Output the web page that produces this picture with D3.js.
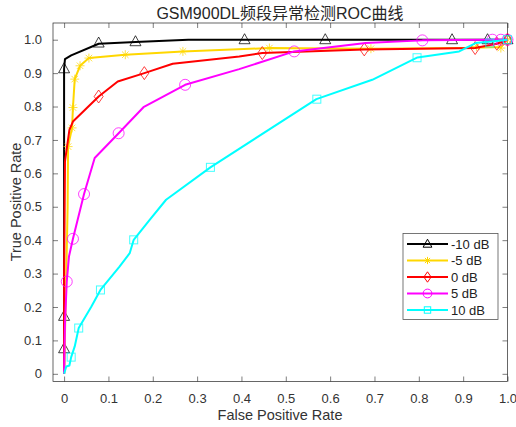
<!DOCTYPE html>
<html><head><meta charset="utf-8">
<script src="https://cdn.jsdelivr.net/npm/d3@7"></script>
<style>body{margin:0;background:#fff}svg{display:block;font-family:"Liberation Sans",Arial,sans-serif}</style>
</head><body><svg id="c" width="516" height="427"></svg>
<script>
const title = "GSM900DL频段异常检测ROC曲线";
const xLabel = "False Positive Rate";
const yLabel = "True Positive Rate";
const ticks = [0,0.1,0.2,0.3,0.4,0.5,0.6,0.7,0.8,0.9,1.0];
const seriesNames = ["-10 dB","-5 dB","0 dB","5 dB","10 dB"];
const seriesColors = ["#000000","#FFD700","#FF0000","#FF00FF","#00FFFF"];
const seriesMarkers = ["triangle","asterisk","diamond","circle","square"];

const lineM10 = [[0,0],[0,0.075],[0,0.17],[0,0.5],[0,0.913],[0.002,0.942],[0.016,0.953],[0.078,0.988],[0.161,0.993],[0.28,1.0],[0.407,1.0],[0.589,1.0],[0.875,1.0],[0.955,1.0],[1,1]];
const markM10 = [[0,0.075],[0,0.172],[0,0.913],[0.078,0.99],[0.161,0.994],[0.407,1],[0.589,1],[0.875,1],[0.955,1],[1,1]];

const lineM5 = [[0,0],[0.005,0.3],[0.008,0.5],[0.009,0.68],[0.018,0.736],[0.02,0.797],[0.024,0.882],[0.036,0.922],[0.056,0.945],[0.138,0.955],[0.268,0.965],[0.463,0.975],[0.692,0.973],[0.9,0.975],[0.985,0.978],[1,1]];
const markM5 = [[0.009,0.68],[0.018,0.736],[0.02,0.797],[0.024,0.882],[0.036,0.922],[0.056,0.945],[0.138,0.955],[0.268,0.965],[0.463,0.975],[0.692,0.973],[0.93,0.98],[0.985,0.975],[1,1]];

const line0 = [[0,0],[0,0.3],[0.002,0.636],[0.012,0.73],[0.02,0.755],[0.078,0.83],[0.121,0.875],[0.181,0.9],[0.245,0.928],[0.395,0.95],[0.447,0.96],[0.677,0.971],[0.927,0.975],[0.976,0.988],[1,1]];
const mark0 = [[0.078,0.83],[0.181,0.9],[0.447,0.96],[0.677,0.971],[0.927,0.975],[0.976,0.988],[1,1]];

const line5 = [[0,0],[0.002,0.15],[0.006,0.276],[0.011,0.351],[0.02,0.404],[0.045,0.538],[0.069,0.646],[0.123,0.72],[0.179,0.798],[0.273,0.865],[0.395,0.912],[0.519,0.965],[0.68,0.99],[0.808,0.998],[0.966,1.0],[1,1]];
const mark5 = [[0.006,0.276],[0.02,0.404],[0.045,0.538],[0.123,0.72],[0.273,0.865],[0.519,0.965],[0.808,0.998],[0.966,1.0],[0.985,1.0],[1,1]];

const line10 = [[0,0],[0.005,0.022],[0.012,0.025],[0.016,0.05],[0.024,0.082],[0.033,0.137],[0.061,0.2],[0.082,0.251],[0.125,0.321],[0.148,0.361],[0.157,0.401],[0.193,0.461],[0.23,0.521],[0.33,0.618],[0.569,0.822],[0.695,0.88],[0.797,0.947],[0.891,0.965],[0.928,0.99],[0.98,0.997],[1,1]];
const mark10 = [[0.016,0.05],[0.033,0.137],[0.082,0.251],[0.157,0.401],[0.33,0.618],[0.57,0.822],[0.796,0.946],[0.96,0.99],[1,1]];

const lines = [lineM10,lineM5,line0,line5,line10];
const marks = [markM10,markM5,mark0,mark5,mark10];

const svg = d3.select("#c");
const L=53,R=507.5,T=23,B=381.5;
const x = d3.scaleLinear().domain([-0.025,1.0]).range([L,R]);
const y = d3.scaleLinear().domain([-0.023,1.05]).range([B,T]);
const axisCol = "#262626";
const fmt = d=> d===0?"0":d.toFixed(1);

svg.append("rect").attr("x",L).attr("y",T).attr("width",R-L).attr("height",B-T).attr("fill","#fff");

const gx = svg.append("g").attr("transform",`translate(0,${B})`).call(d3.axisBottom(x).tickValues(ticks).tickFormat(fmt).tickSizeInner(-5).tickSizeOuter(0).tickPadding(12));
const gxt = svg.append("g").attr("transform",`translate(0,${T})`).call(d3.axisTop(x).tickValues(ticks).tickFormat("").tickSizeInner(-5).tickSizeOuter(0));
const gy = svg.append("g").attr("transform",`translate(${L},0)`).call(d3.axisLeft(y).tickValues(ticks).tickFormat(fmt).tickSizeInner(-5).tickSizeOuter(0).tickPadding(11));
const gyr = svg.append("g").attr("transform",`translate(${R},0)`).call(d3.axisRight(y).tickValues(ticks).tickFormat("").tickSizeInner(-5).tickSizeOuter(0));
[gx,gxt,gy,gyr].forEach(g=>{
  g.select(".domain").remove();
  g.selectAll("line").attr("stroke",axisCol).attr("stroke-width",0.6);
  g.selectAll("text").attr("fill","#333").style("font-size","13px").style("font-family","'Liberation Sans',Arial,sans-serif");
});
svg.append("rect").attr("x",L).attr("y",T).attr("width",R-L).attr("height",B-T).attr("fill","none").attr("stroke",axisCol).attr("stroke-width",0.7);

function drawMarker(g, type, cx, cy, col, s, op){
  s = s||1; op = op==null?0.75:op;
  let el;
  if(type==="triangle"){
    el = g.append("path").attr("d",`M${cx},${cy-6*s}L${cx+5.5*s},${cy+4*s}L${cx-5.5*s},${cy+4*s}Z`).attr("fill","none");
  } else if(type==="asterisk"){
    const r=4.5*s, d=r*0.72;
    el = g.append("path").attr("d",`M${cx-r},${cy}L${cx+r},${cy}M${cx},${cy-r}L${cx},${cy+r}M${cx-d},${cy-d}L${cx+d},${cy+d}M${cx-d},${cy+d}L${cx+d},${cy-d}`);
  } else if(type==="diamond"){
    el = g.append("path").attr("d",`M${cx},${cy-6.5*s}L${cx+4.5*s},${cy}L${cx},${cy+6.5*s}L${cx-4.5*s},${cy}Z`).attr("fill","none");
  } else if(type==="circle"){
    el = g.append("circle").attr("cx",cx).attr("cy",cy).attr("r",5.5*s).attr("fill","none");
  } else if(type==="square"){
    el = g.append("rect").attr("x",cx-4*s).attr("y",cy-4*s).attr("width",8*s).attr("height",8*s).attr("fill","none");
  }
  el.attr("stroke",col).attr("stroke-width",1).attr("stroke-opacity",op);
}

const lineGen = d3.line().x(d=>x(d[0])).y(d=>y(d[1]));
lines.forEach((ln,i)=>{
  const g = svg.append("g");
  g.append("path").attr("d",lineGen(ln)).attr("fill","none").attr("stroke",seriesColors[i]).attr("stroke-width",2).attr("stroke-linejoin","round");
  marks[i].forEach(p=>drawMarker(g,seriesMarkers[i],x(p[0]),y(p[1]),seriesColors[i]));
});

svg.append("text").attr("x",280).attr("y",19).attr("text-anchor","middle").attr("fill","#262626")
  .style("font-size","16px").style("font-family","'Liberation Sans','Noto Sans CJK SC',sans-serif").text(title);
svg.append("text").attr("x",280).attr("y",420).attr("text-anchor","middle").attr("fill","#333").style("font-size","14.5px").text(xLabel);
svg.append("text").attr("transform","translate(21,202) rotate(-90)").attr("text-anchor","middle").attr("fill","#333").style("font-size","14.5px").text(yLabel);

const lg = svg.append("g");
lg.append("rect").attr("x",403).attr("y",233.5).attr("width",95).attr("height",86).attr("fill","#fff").attr("stroke","#555").attr("stroke-width",0.8);
seriesNames.forEach((n,i)=>{
  const yy = 244 + i*16.5;
  lg.append("line").attr("x1",407).attr("x2",448).attr("y1",yy).attr("y2",yy).attr("stroke",seriesColors[i]).attr("stroke-width",2);
  drawMarker(lg,seriesMarkers[i],427.5,yy,seriesColors[i],0.8,1);
  lg.append("text").attr("x",451).attr("y",yy+4.5).attr("fill","#222").style("font-size","13px").text(n);
});
</script></body></html>
